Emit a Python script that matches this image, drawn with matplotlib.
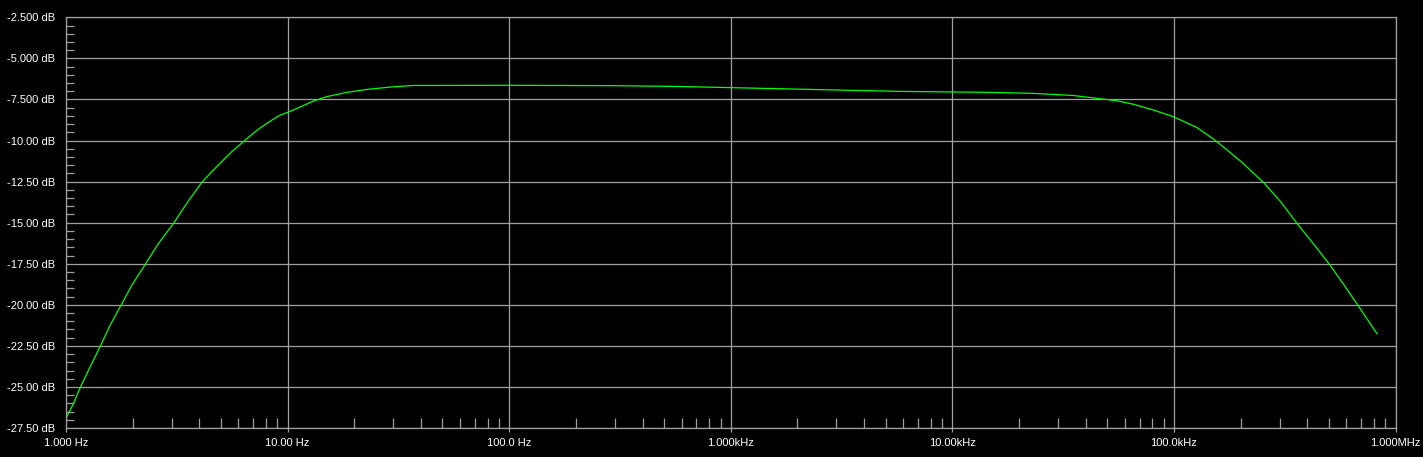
import numpy as np
import matplotlib
matplotlib.use("Agg")
import matplotlib.pyplot as plt
from matplotlib.ticker import FixedLocator, LogLocator, NullFormatter

# Frequency response
freq = [1.0, 1.079, 1.157, 1.283, 1.424, 1.580, 1.766, 1.980, 2.274, 2.611,
        3.051, 3.567, 4.10, 4.55, 5.05, 5.60, 6.43, 7.38, 8.49, 9.25, 10.0,
        10.8, 11.39, 13.08, 15.03, 18.5, 22.8, 30.0, 37.0, 100.0, 290.0,
        574.0, 918.0, 1446.0, 2300.0, 5820.0, 14700.0, 23200.0, 35200.0,
        46600.0, 55400.0, 65900.0, 81100.0, 99800.0, 127000.0, 154000.0,
        199500.0, 254000.0, 303000.0, 360000.0, 428000.0, 505000.0,
        585000.0, 679000.0, 826000.0]
gain_db = [-26.91, -26.04, -25.06, -23.8, -22.56, -21.26, -20.06, -18.82,
           -17.56, -16.28, -15.06, -13.68, -12.55, -11.9, -11.28, -10.68,
           -9.98, -9.31, -8.76, -8.46, -8.29, -8.1, -7.96, -7.6, -7.33,
           -7.07, -6.89, -6.73, -6.65, -6.64, -6.66, -6.71, -6.77, -6.83,
           -6.89, -7.01, -7.07, -7.13, -7.26, -7.46, -7.58, -7.8, -8.15,
           -8.56, -9.21, -10.0, -11.24, -12.56, -13.72, -15.06, -16.32,
           -17.56, -18.78, -20.06, -21.77]

x_ticks = [1, 10, 100, 1e3, 1e4, 1e5, 1e6]
x_labels = ["1.000 Hz", "10.00 Hz", "100.0 Hz", "1.000kHz", "10.00kHz",
            "100.0kHz", "1.000MHz"]
y_ticks = [-2.5, -5, -7.5, -10, -12.5, -15, -17.5, -20, -22.5, -25, -27.5]
y_labels = ["-2.500 dB", "-5.000 dB", "-7.500 dB", "-10.00 dB", "-12.50 dB",
            "-15.00 dB", "-17.50 dB", "-20.00 dB", "-22.50 dB", "-25.00 dB",
            "-27.50 dB"]

grid_col = "#a0a0a0"
plt.rcParams['font.family'] = ['Liberation Sans', 'DejaVu Sans']

fig = plt.figure(figsize=(14.23, 4.57), dpi=100, facecolor="black")
ax = fig.add_axes([66 / 1423, 29 / 457, 1329.5 / 1423, 410.7 / 457])
ax.set_facecolor("black")

ax.plot(freq, gain_db, color="#00ff00", lw=0.9)

ax.set_xscale("log")
ax.set_xlim(1, 1e6)
ax.set_ylim(-27.5, -2.5)

ax.set_xticks(x_ticks)
ax.set_xticklabels(x_labels)
ax.set_yticks(y_ticks)
ax.set_yticklabels(y_labels)
ax.xaxis.set_minor_locator(LogLocator(base=10, subs=np.arange(2, 10), numticks=20))
ax.xaxis.set_minor_formatter(NullFormatter())
ax.yaxis.set_minor_locator(FixedLocator(np.arange(-27.5, -2.4, 0.5)))

ax.grid(True, which="major", color=grid_col, lw=0.9)
for s in ax.spines.values():
    s.set_color(grid_col)
    s.set_linewidth(0.9)

ax.tick_params(axis="x", which="major", direction="out", length=3, width=0.9,
               color=grid_col, colors="white", labelsize=8, pad=4)
ax.tick_params(axis="y", which="major", length=0, colors="white",
               labelsize=8, pad=8)
ax.tick_params(axis="x", which="minor", direction="in", length=7, width=0.9,
               color=grid_col)
ax.tick_params(axis="y", which="minor", direction="in", length=6, width=0.9,
               color=grid_col)

fig.savefig("out.png", dpi=100, facecolor="black")
